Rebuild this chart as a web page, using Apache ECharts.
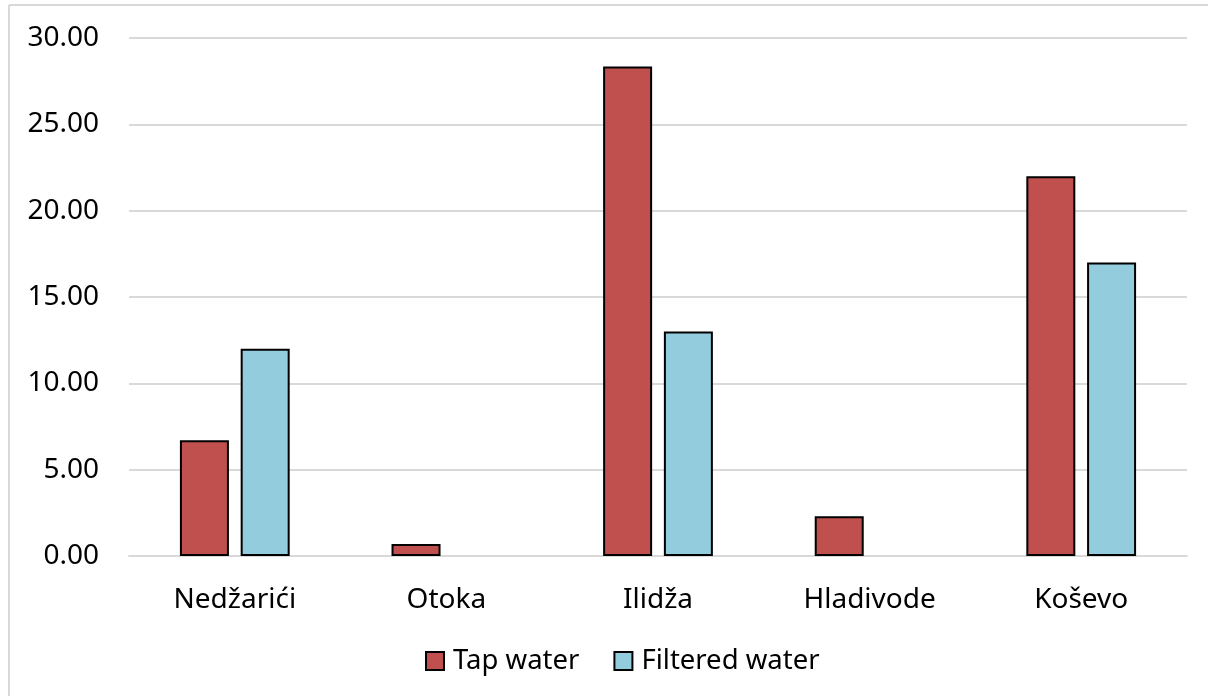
<!DOCTYPE html>
<html>
<head>
<meta charset="utf-8">
<script src="https://cdn.jsdelivr.net/npm/echarts@6/dist/echarts.min.js"></script>
<style>
html,body{margin:0;padding:0;background:#fff;}
#c{width:1208px;height:696px;}
</style>
</head>
<body>
<div id="c"></div>
<script>
var categories = ["Nedžarići", "Otoka", "Ilidža", "Hladivode", "Koševo"];
var tapWater = [6.7, 0.7, 28.35, 2.3, 22.0];
var filteredWater = [12.0, 0, 13.0, 0, 17.0];
var yTicks = {min: 0, max: 30, interval: 5};

var FONT = "Noto Sans";
function toItems(arr) {
  return arr.map(function (v) {
    return v === 0 ? {value: v, itemStyle: {borderWidth: 0, opacity: 0}} : v;
  });
}
var chart = echarts.init(document.getElementById('c'), null, {renderer: 'canvas'});
chart.setOption({
  animation: false,
  backgroundColor: '#ffffff',
  textStyle: {fontFamily: FONT},
  grid: {left: 129, right: 21, top: 38, bottom: 140, containLabel: false},
  legend: {
    bottom: 16,
    left: 420,
    itemWidth: 18,
    itemHeight: 18,
    itemGap: 34,
    icon: 'rect',
    textStyle: {fontFamily: FONT, fontSize: 27.5, color: '#000', padding: [0, 0, 0, 4]},
    data: ['Tap water', 'Filtered water']
  },
  xAxis: {
    type: 'category',
    data: categories,
    axisLine: {show: true, lineStyle: {color: '#d9d9d9', width: 2}},
    axisTick: {show: false},
    axisLabel: {fontFamily: FONT, fontSize: 28, color: '#000', margin: 30}
  },
  yAxis: {
    type: 'value',
    min: yTicks.min,
    max: yTicks.max,
    interval: yTicks.interval,
    axisLine: {show: false},
    axisTick: {show: false},
    splitLine: {lineStyle: {color: '#d9d9d9', width: 2}},
    axisLabel: {fontFamily: FONT, fontSize: 28, color: '#000', margin: 30,
      formatter: function (v) { return v.toFixed(2); }}
  },
  series: [
    {
      name: 'Tap water', type: 'bar', data: toItems(tapWater),
      barWidth: 49, barGap: '24%',
      itemStyle: {color: '#C0504D', borderColor: '#000', borderWidth: 2}
    },
    {
      name: 'Filtered water', type: 'bar', data: toItems(filteredWater),
      barWidth: 49, barGap: '24%',
      itemStyle: {color: '#93CDDD', borderColor: '#000', borderWidth: 2}
    }
  ],
  graphic: [
    {type: 'line', shape: {x1: 9, y1: 5, x2: 9, y2: 696}, style: {stroke: '#d9d9d9', lineWidth: 2}},
    {type: 'line', shape: {x1: 9, y1: 5, x2: 1208, y2: 5}, style: {stroke: '#d9d9d9', lineWidth: 2}}
  ]
});
</script>
</body>
</html>
